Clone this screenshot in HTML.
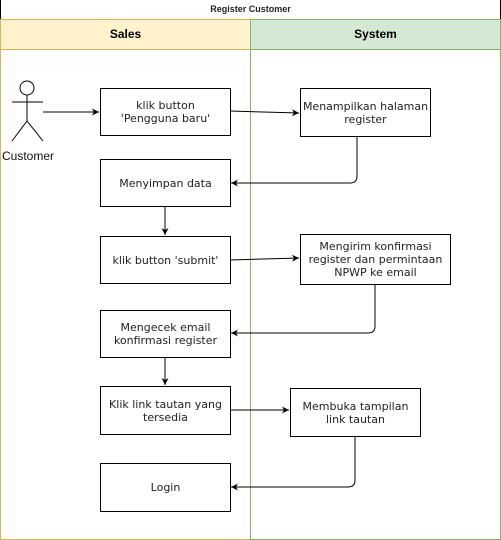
<!DOCTYPE html>
<html><head><style>
body{margin:0;width:501px;height:540px;overflow:hidden;background:#fff;position:relative;font-family:"DejaVu Sans",sans-serif}
.b{position:absolute;border:1px solid #000;background:#fff;box-sizing:border-box;display:flex;align-items:center;justify-content:center;text-align:center;font-size:11px;color:#222;line-height:13px}
</style></head><body>
<div style="position:absolute;left:0;top:0;width:501px;height:19px;box-sizing:border-box;border-left:1px solid #000;border-right:1px solid #000;font:bold 9px 'Liberation Sans',sans-serif;text-align:center;line-height:19px;color:#222">Register Customer</div>
<div style="position:absolute;left:0;top:19px;width:251px;height:521px;box-sizing:border-box;border:1px solid #d6b656"></div>
<div style="position:absolute;left:250px;top:19px;width:251px;height:521px;box-sizing:border-box;border:1px solid #82b366"></div>
<div style="position:absolute;left:1px;top:20px;width:249px;height:29px;background:#fff2cc;border-bottom:1px solid #d6b656;font:bold 12px 'Liberation Sans',sans-serif;text-align:center;line-height:29px">Sales</div>
<div style="position:absolute;left:251px;top:20px;width:249px;height:29px;background:#d5e8d4;border-bottom:1px solid #82b366;font:bold 12px 'Liberation Sans',sans-serif;text-align:center;line-height:29px">System</div>

<svg style="position:absolute;left:0;top:0" width="501" height="540">
<defs><marker id="a" markerWidth="8" markerHeight="8" refX="7" refY="4" orient="auto" markerUnits="userSpaceOnUse"><path d="M0,0.5 L7,4 L0,7.5 L2,4z" fill="#000"/></marker></defs>
<g stroke="#000" fill="none" stroke-width="1">
<circle cx="27" cy="88" r="7"/>
<line x1="27" y1="95" x2="27" y2="121"/>
<line x1="12" y1="102" x2="43" y2="102"/>
<line x1="27" y1="121" x2="12" y2="141"/>
<line x1="27" y1="121" x2="43" y2="141"/>
<line x1="43" y1="112" x2="99" y2="112" marker-end="url(#a)"/>
<line x1="230" y1="111" x2="299" y2="113" marker-end="url(#a)"/>
<path d="M357,136 V176 Q357,183 350,183 H231" marker-end="url(#a)"/>
<line x1="165" y1="206" x2="165" y2="235" marker-end="url(#a)"/>
<line x1="230" y1="260" x2="299" y2="258" marker-end="url(#a)"/>
<path d="M375,284 V326 Q375,333 368,333 H231" marker-end="url(#a)"/>
<line x1="165" y1="357" x2="165" y2="385" marker-end="url(#a)"/>
<line x1="230" y1="410" x2="289" y2="410" marker-end="url(#a)"/>
<path d="M355,436 V480 Q355,487 348,487 H231" marker-end="url(#a)"/>
</g>
<text x="28" y="160" font-family="Liberation Sans,sans-serif" font-size="12" text-anchor="middle" fill="#111">Customer</text>
</svg>

<div class="b" style="left:100px;top:88px;width:131px;height:48px">klik button<br>'Pengguna baru'</div>
<div class="b" style="left:100px;top:159px;width:131px;height:48px">Menyimpan data</div>
<div class="b" style="left:100px;top:236px;width:131px;height:48px">klik button 'submit'</div>
<div class="b" style="left:100px;top:310px;width:131px;height:48px">Mengecek email<br>konfirmasi register</div>
<div class="b" style="left:100px;top:386px;width:131px;height:49px">Klik link tautan yang<br>tersedia</div>
<div class="b" style="left:100px;top:463px;width:131px;height:49px">Login</div>
<div class="b" style="left:300px;top:88px;width:131px;height:49px">Menampilkan halaman<br>register</div>
<div class="b" style="left:300px;top:234px;width:151px;height:51px">Mengirim konfirmasi<br>register dan permintaan<br>NPWP ke email</div>
<div class="b" style="left:290px;top:388px;width:131px;height:49px">Membuka tampilan<br>link tautan</div>
</body></html>
